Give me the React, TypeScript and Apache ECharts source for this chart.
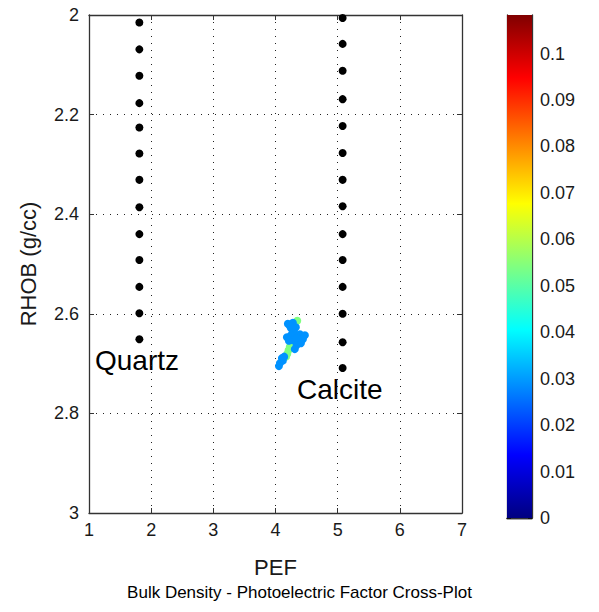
import React, { useEffect, useRef } from "react";
import * as echarts from "echarts";

// Matrix reference lines (PEF, RHOB)
const quartzPEF = 1.81;
const quartzRHOB = [2.015, 2.069, 2.122, 2.177, 2.226, 2.278, 2.331, 2.386, 2.44, 2.492, 2.546, 2.599, 2.651];
const calcitePEF = 5.08;
const calciteRHOB = [2.006, 2.058, 2.112, 2.169, 2.223, 2.277, 2.331, 2.384, 2.44, 2.492, 2.546, 2.6, 2.657, 2.709];

// Cross-plot samples: PEF, RHOB, density value (colour)
const samplePEF = [4.35, 4.25, 4.23, 4.21, 4.19, 4.17,
  4.199, 4.28, 4.248, 4.328, 4.296, 4.23,
  4.183, 4.248, 4.312, 4.393, 4.473, 4.441, 4.36, 4.28, 4.215, 4.409, 4.34,
  4.34, 4.31,
  4.14, 4.103, 4.119, 4.071, 4.055];
const sampleRHOB = [2.614, 2.66, 2.666, 2.673, 2.68, 2.686,
  2.62, 2.618, 2.629, 2.627, 2.635, 2.624,
  2.647, 2.643, 2.645, 2.641, 2.643, 2.651, 2.653, 2.653, 2.654, 2.659, 2.648,
  2.663, 2.671,
  2.686, 2.689, 2.694, 2.699, 2.705];
const sampleValue = [0.054, 0.054, 0.054, 0.054, 0.054, 0.054,
  0.029, 0.029, 0.029, 0.029, 0.029, 0.029,
  0.029, 0.029, 0.029, 0.029, 0.029, 0.029, 0.029, 0.029, 0.029, 0.029, 0.029,
  0.029, 0.029,
  0.029, 0.029, 0.029, 0.029, 0.029];

const colorMin = 0;
const colorMax = 0.1083;
const jet = ["#000080", "#0000ff", "#0080ff", "#00ffff", "#80ff80", "#ffff00", "#ff8000", "#ff0000", "#800000"];

const FONT = "'Liberation Sans', Arial, Helvetica, sans-serif";
const TXT = "#1a1a1a";
const FRAME = "#333";

export default function App() {
  const ref = useRef<HTMLDivElement>(null);
  useEffect(() => {
    if (!ref.current) return;
    const chart = echarts.init(ref.current, null, { renderer: "svg" });
    const dotted = { show: true, lineStyle: { color: "#222", width: 1, type: [1, 6] as any } };
    const frameLine = { show: true, lineStyle: { color: FRAME, width: 1.3 } };
    const tickIn = { show: true, inside: true, length: 5, lineStyle: { color: FRAME, width: 1 } };
    const cbTicks = { show: true, inside: true, length: 4, lineStyle: { color: "#111", width: 1 } };
    const quartzData = quartzRHOB.map((r) => [quartzPEF, r]);
    const calciteData = calciteRHOB.map((r) => [calcitePEF, r]);
    const samples = samplePEF.map((p, i) => [p, sampleRHOB[i], sampleValue[i]]);
    const option: any = {
      animation: false,
      textStyle: { fontFamily: FONT },
      grid: [
        { left: 89, top: 15, width: 373, height: 498 },
        { left: 507, top: 15, width: 25, height: 503 },
      ],
      xAxis: [
        {
          gridIndex: 0, type: "value", min: 1, max: 7, interval: 1, position: "bottom",
          axisLine: frameLine, axisTick: tickIn, splitLine: dotted,
          axisLabel: { color: TXT, fontSize: 18, margin: 8, fontFamily: FONT },
          name: "PEF", nameLocation: "middle", nameGap: 43,
          nameTextStyle: { color: TXT, fontSize: 22, fontFamily: FONT },
        },
        {
          gridIndex: 0, type: "value", min: 1, max: 7, interval: 1, position: "top",
          axisLine: frameLine, axisTick: tickIn, splitLine: { show: false }, axisLabel: { show: false },
        },
        {
          gridIndex: 1, type: "category", data: [""], position: "bottom",
          axisLine: frameLine, axisTick: { show: false }, axisLabel: { show: false },
        },
        {
          gridIndex: 1, type: "category", data: [""], position: "top",
          axisLine: frameLine, axisTick: { show: false }, axisLabel: { show: false },
        },
      ],
      yAxis: [
        {
          gridIndex: 0, type: "value", min: 2, max: 3, interval: 0.2, inverse: true, position: "left",
          axisLine: frameLine, axisTick: tickIn, splitLine: dotted,
          axisLabel: {
            color: TXT, fontSize: 18, margin: 10, fontFamily: FONT,
            formatter: (v: number) => String(Math.round(v * 10) / 10),
          },
          name: "RHOB (g/cc)", nameLocation: "middle", nameGap: 50, nameRotate: 90,
          nameTextStyle: { color: TXT, fontSize: 22, fontFamily: FONT },
        },
        {
          gridIndex: 0, type: "value", min: 2, max: 3, interval: 0.2, inverse: true, position: "right",
          axisLine: frameLine, axisTick: tickIn, splitLine: { show: false }, axisLabel: { show: false },
        },
        {
          gridIndex: 1, type: "value", min: colorMin, max: colorMax, interval: 0.01, position: "right",
          axisLine: frameLine, axisTick: cbTicks, splitLine: { show: false },
          axisLabel: {
            color: TXT, fontSize: 18, margin: 8, fontFamily: FONT,
            formatter: (v: number) => {
              const k = v / 0.01;
              return Math.abs(k - Math.round(k)) < 1e-6 ? String(+v.toFixed(2)) : "";
            },
          },
        },
        {
          gridIndex: 1, type: "value", min: colorMin, max: colorMax, interval: 0.01, position: "left",
          axisLine: frameLine, axisTick: cbTicks, splitLine: { show: false }, axisLabel: { show: false },
        },
      ],
      visualMap: {
        type: "continuous", show: false, seriesIndex: 2, dimension: 2,
        min: colorMin, max: colorMax, inRange: { color: jet },
      },
      series: [
        {
          name: "Quartz", type: "scatter", xAxisIndex: 0, yAxisIndex: 0,
          data: quartzData, symbolSize: 8, itemStyle: { color: "#000", opacity: 1 },
        },
        {
          name: "Calcite", type: "scatter", xAxisIndex: 0, yAxisIndex: 0,
          data: calciteData, symbolSize: 8, itemStyle: { color: "#000", opacity: 1 },
        },
        {
          name: "Samples", type: "scatter", xAxisIndex: 0, yAxisIndex: 0,
          data: samples, symbolSize: 8, itemStyle: { opacity: 1 },
        },
        {
          name: "Colorbar", type: "bar", xAxisIndex: 2, yAxisIndex: 2,
          data: [colorMax], barWidth: "100%", silent: true,
          itemStyle: {
            color: {
              type: "linear", x: 0, y: 1, x2: 0, y2: 0,
              colorStops: jet.map((c, i) => ({ offset: i / (jet.length - 1), color: c })),
            },
          },
        },
      ],
      graphic: [
        {
          type: "text", left: 95, top: 346,
          style: { text: "Quartz", font: `28px ${FONT}`, fill: "#000" },
        },
        {
          type: "text", left: 297, top: 375,
          style: { text: "Calcite", font: `28px ${FONT}`, fill: "#000" },
        },
        {
          type: "text", left: "center", top: 584,
          style: { text: "Bulk Density - Photoelectric Factor Cross-Plot", font: `17px ${FONT}`, fill: "#000" },
        },
      ],
    };
    chart.setOption(option);
    return () => chart.dispose();
  }, []);
  return (
    <div
      ref={ref}
      style={{ position: "absolute", left: 0, top: 0, width: 599, height: 612 }}
    />
  );
}
